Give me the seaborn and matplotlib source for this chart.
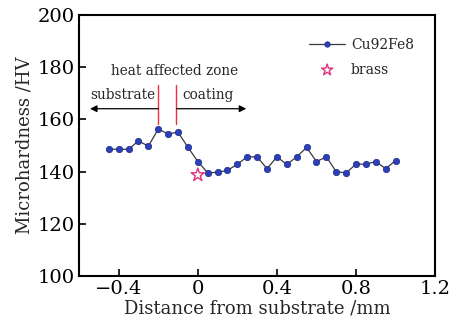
import numpy as np
import pandas as pd
import matplotlib
matplotlib.use("Agg")
import matplotlib.pyplot as plt
import seaborn as sns

# Data
distance = [-0.45, -0.40, -0.35, -0.30, -0.25, -0.20, -0.15, -0.10, -0.05, 0.00,
            0.05, 0.10, 0.15, 0.20, 0.25, 0.30, 0.35, 0.40, 0.45, 0.50,
            0.55, 0.60, 0.65, 0.70, 0.75, 0.80, 0.85, 0.90, 0.95, 1.00]
hardness = [148.5, 148.5, 148.5, 151.7, 149.7, 156.2, 154.4, 155.0, 149.3, 143.8,
            139.5, 139.7, 140.4, 142.8, 145.6, 145.6, 141.1, 145.6, 142.7, 145.6,
            149.2, 143.8, 145.6, 139.9, 139.5, 142.8, 142.8, 143.8, 141.1, 144.2]
brass_x = [0.0]
brass_y = [138.7]
x_ticks = [-0.4, 0, 0.4, 0.8, 1.2]
x_tick_labels = ["\u22120.4", "0", "0.4", "0.8", "1.2"]
y_ticks = [100, 120, 140, 160, 180, 200]

sns.set_theme(style="ticks")
plt.rcParams['font.family'] = ['DejaVu Serif']
plt.rcParams['mathtext.fontset'] = 'dejavuserif'

fig = plt.figure(figsize=(4.6, 3.23), dpi=100)
ax = fig.add_axes([0.172, 0.145, 0.774, 0.81])

df = pd.DataFrame({"x": distance, "y": hardness})
sns.lineplot(data=df, x="x", y="y", ax=ax, color="#3a3a3a", lw=0.9,
             marker="o", markersize=4.6, markerfacecolor="#2c3fb8",
             markeredgecolor="#1c2a8a", markeredgewidth=0.5, label="Cu92Fe8")
sns.scatterplot(x=brass_x, y=brass_y, ax=ax, marker="*", s=100,
                facecolor="none", edgecolor="#e2337e", linewidth=1.0,
                label="brass", zorder=5)

ax.set_xlim(-0.6, 1.2)
ax.set_ylim(100, 200)
ax.set_xticks(x_ticks)
ax.set_xticklabels(x_tick_labels)
ax.set_yticks(y_ticks)
ax.tick_params(direction="in", length=5, width=1.2, labelsize=14, colors="black", pad=3)
for s in ax.spines.values():
    s.set_linewidth(1.5)
    s.set_color("black")

ax.set_xlabel("Distance from substrate /mm", fontsize=13, labelpad=1)
ax.set_ylabel("Microhardness /HV", fontsize=13, labelpad=3)

# Annotations
ax.plot([-0.2, -0.2], [158, 173], color="#e8323c", lw=1.0)
ax.plot([-0.108, -0.108], [158, 173], color="#e8323c", lw=1.0)
ax.annotate("", xy=(-0.545, 164), xytext=(-0.2, 164),
            arrowprops=dict(arrowstyle="-|>", color="black", lw=0.9, mutation_scale=10, shrinkA=0, shrinkB=0))
ax.annotate("", xy=(0.245, 164), xytext=(-0.108, 164),
            arrowprops=dict(arrowstyle="-|>", color="black", lw=0.9, mutation_scale=10, shrinkA=0, shrinkB=0))
ax.text(-0.12, 178.3, "heat affected zone", ha="center", va="center", fontsize=9.8)
ax.text(-0.378, 169.4, "substrate", ha="center", va="center", fontsize=9.8)
ax.text(0.052, 169.2, "coating", ha="center", va="center", fontsize=9.8)

leg = ax.legend(loc="upper right", bbox_to_anchor=(0.975, 0.96), frameon=False,
                fontsize=10, handlelength=2.6, handletextpad=0.4, labelspacing=0.8,
                markerscale=0.85)

fig.savefig("out.png", dpi=100)
